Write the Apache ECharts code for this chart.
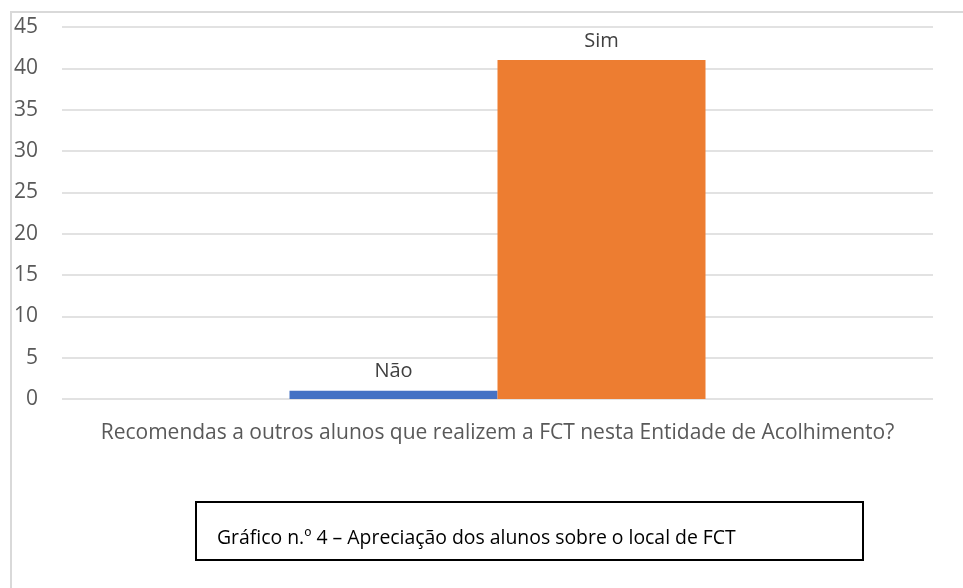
<!DOCTYPE html>
<html>
<head>
<meta charset="utf-8">
<script src="https://cdn.jsdelivr.net/npm/echarts@6/dist/echarts.min.js"></script>
<style>
  html, body { margin: 0; padding: 0; background: #fff; }
  #chart { width: 963px; height: 588px; }
</style>
</head>
<body>
<div id="chart"></div>
<script>
// dados do gráfico
var categorias = ["Recomendas a outros alunos que realizem a FCT nesta Entidade de Acolhimento?"];
var nao = [1];
var sim = [41];
var legenda = "Gráfico n.º 4 – Apreciação dos alunos sobre o local de FCT";

var chart = echarts.init(document.getElementById("chart"));

var option = {
  animation: false,
  grid: { left: 62, right: 30, top: 27, bottom: 189 },
  xAxis: {
    type: "category",
    data: categorias,
    axisLine: { show: false },
    axisTick: { show: false },
    axisLabel: {
      color: "#595959",
      fontFamily: "Open Sans",
      fontSize: 21,
      margin: 24
    }
  },
  yAxis: {
    type: "value",
    min: 0,
    max: 45,
    interval: 5,
    axisLine: { show: false },
    axisTick: { show: false },
    axisLabel: {
      color: "#595959",
      fontFamily: "Open Sans",
      fontSize: 21,
      margin: 24
    },
    splitLine: { lineStyle: { color: "#d9d9d9", width: 1.5 } }
  },
  series: [
    {
      name: "Não",
      type: "bar",
      data: nao,
      barWidth: 208,
      barGap: "0%",
      itemStyle: { color: "#4472c4" },
      label: {
        show: true,
        position: "top",
        formatter: "{a}",
        color: "#404040",
        fontFamily: "Open Sans",
        fontSize: 20,
        distance: 9
      }
    },
    {
      name: "Sim",
      type: "bar",
      data: sim,
      barWidth: 208,
      itemStyle: { color: "#ed7d31" },
      label: {
        show: true,
        position: "top",
        formatter: "{a}",
        color: "#404040",
        fontFamily: "Open Sans",
        fontSize: 20,
        distance: 9
      }
    }
  ],
  graphic: [
    // moldura do gráfico
    {
      type: "polyline",
      silent: true,
      shape: { points: [[11, 588], [11, 12], [963, 12]] },
      style: { stroke: "#d9d9d9", lineWidth: 2, fill: null }
    },
    // caixa da legenda
    {
      type: "rect",
      silent: true,
      shape: { x: 196, y: 502, width: 667, height: 58 },
      style: { stroke: "#000", lineWidth: 2, fill: "#fff" }
    },
    {
      type: "text",
      silent: true,
      left: 217,
      top: 529,
      style: {
        text: legenda,
        fill: "#000",
        font: "19.4px 'Open Sans'"
      }
    }
  ]
};

chart.setOption(option);
</script>
</body>
</html>
